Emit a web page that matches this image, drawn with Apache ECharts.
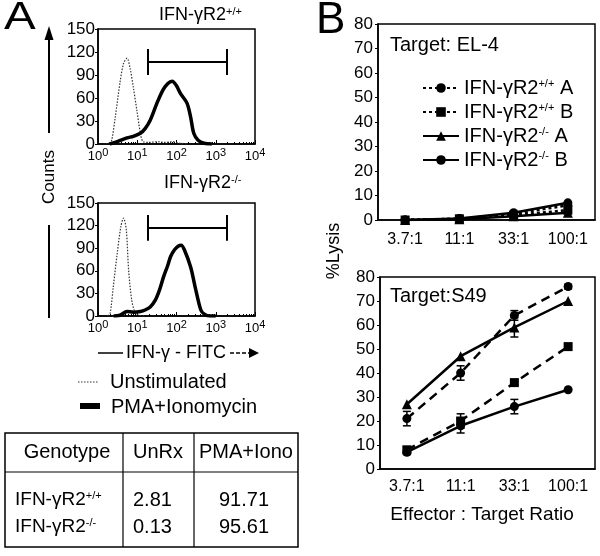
<!DOCTYPE html>
<html>
<head>
<meta charset="utf-8">
<script src="https://cdn.jsdelivr.net/npm/echarts@6/dist/echarts.min.js"></script>
<style>
html, body { margin: 0; padding: 0; background: #fff; }
#chart { width: 600px; height: 556px; }
</style>
</head>
<body>
<div id="chart"></div>
<script>
var FONT = '"Liberation Sans", Arial, Helvetica, sans-serif';

// Panel A: flow histograms, x given as log10(fluorescence), y = counts
var wtUnstimLog = [0.2, 0.3, 0.35, 0.44, 0.56, 0.65, 0.74, 0.82, 0.9, 0.99, 1.08, 1.15, 1.3, 1.5, 1.7, 1.9, 2.1, 2.3];
var wtUnstimCount = [0, 2, 5, 35, 80, 105, 112, 98, 74, 44, 14, 3, 2, 3, 2, 3, 1, 0];
var wtPmaLog = [0.3, 0.49, 0.74, 0.9, 1.08, 1.2, 1.33, 1.5, 1.65, 1.78, 1.89, 2.0, 2.1, 2.27, 2.36, 2.44, 2.55, 2.7, 2.9];
var wtPmaCount = [0, 3, 8, 10, 14, 20, 31, 53, 70, 79, 82, 76, 66, 53, 35, 14, 5, 1, 0];
var koUnstimLog = [0.25, 0.31, 0.39, 0.48, 0.58, 0.65, 0.72, 0.78, 0.86, 0.95, 1.05, 1.2];
var koUnstimCount = [0, 4, 39, 79, 118, 130, 115, 61, 21, 4, 1, 0];
var koPmaLog = [0.4, 0.56, 0.74, 0.9, 1.08, 1.2, 1.33, 1.46, 1.57, 1.67, 1.77, 1.85, 1.95, 2.05, 2.12, 2.2, 2.36, 2.49, 2.62, 2.72, 2.85, 3.0];
var koPmaCount = [0, 1, 6, 5, 6, 8, 12, 21, 35, 52, 66, 79, 88, 93, 94, 88, 65, 35, 8, 2, 0, 0];
var wtGate = [19, 1900, 107];
var koGate = [19, 1900, 117];
var countTicks = [0, 150, 30];

// Panel A table
var tableHeader = ['Genotype', 'UnRx', 'PMA+Iono'];
var tableGenotypes = ['+/+', '-/-'];
var tableUnRx = ['2.81', '0.13'];
var tablePma = ['91.71', '95.61'];

// Panel B: %lysis
var ratios = ['3.7:1', '11:1', '33:1', '100:1'];
var seriesNames = ['IFN-γR2+/+ A', 'IFN-γR2+/+ B', 'IFN-γR2-/- A', 'IFN-γR2-/- B'];
var el4WtA = [0, 0.5, 2.5, 6];
var el4WtB = [0, 0.5, 2, 4];
var el4KoA = [0, 0.3, 1.5, 3];
var el4KoB = [0, 0.6, 3, 7];
var s49WtA = [21, 40, 64, 76];
var s49WtB = [8, 20, 36, 51];
var s49KoA = [27, 47, 59, 70];
var s49KoB = [7, 18, 26, 33];
var s49WtAErr = [3, 3, 2, 1];
var s49WtBErr = [1, 3, 0, 0];
var s49KoAErr = [0, 0, 4, 0];
var s49KoBErr = [1, 3, 3, 0];

function pairs(logs, counts) {
  return logs.map(function (l, i) { return [Math.pow(10, l), counts[i]]; });
}

function gateLines(g) {
  return [
    [{ coord: [g[0], g[2]] }, { coord: [g[1], g[2]] }],
    [{ coord: [g[0], g[2] - 17] }, { coord: [g[0], g[2] + 17] }],
    [{ coord: [g[1], g[2] - 17] }, { coord: [g[1], g[2] + 17] }]
  ];
}

function richSup(size, supSize) {
  return {
    n: { fontFamily: FONT, fontSize: size, lineHeight: size, verticalAlign: 'bottom', color: '#000' },
    s: { fontFamily: FONT, fontSize: supSize, lineHeight: supSize, verticalAlign: 'top', color: '#000' }
  };
}

function histX(grid) {
  return {
    type: 'log', logBase: 10, gridIndex: grid, min: 1, max: 10000,
    axisLine: { lineStyle: { color: '#000', width: 1.5 } },
    axisTick: { show: true, inside: true, length: 4, lineStyle: { color: '#000' } },
    minorTick: { show: true, splitNumber: 9, length: 2, lineStyle: { color: '#000' } },
    splitLine: { show: false },
    axisLabel: {
      margin: 3, color: '#000',
      formatter: function (v) { return '{b|10}{e|' + Math.round(Math.log10(v)) + '}'; },
      rich: {
        b: { fontFamily: FONT, fontSize: 13, lineHeight: 16, verticalAlign: 'bottom', color: '#000' },
        e: { fontFamily: FONT, fontSize: 11, lineHeight: 11, verticalAlign: 'top', color: '#000' }
      }
    }
  };
}
function histY(grid) {
  return {
    type: 'value', gridIndex: grid, min: countTicks[0], max: countTicks[1], interval: countTicks[2],
    axisLine: { show: true, lineStyle: { color: '#000', width: 1.5 } },
    axisTick: { show: true, length: 3, lineStyle: { color: '#000' } },
    splitLine: { show: false },
    axisLabel: { margin: 3, color: '#000', fontFamily: FONT, fontSize: 17 }
  };
}
function lysisX(grid, margin) {
  return {
    type: 'category', gridIndex: grid, data: ratios, boundaryGap: true,
    axisLine: { lineStyle: { color: '#000', width: 1.5 } },
    axisTick: { show: false },
    axisLabel: { interval: 0, hideOverlap: false, margin: margin, color: '#000', fontFamily: FONT, fontSize: 16 }
  };
}
function lysisY(grid) {
  return {
    type: 'value', gridIndex: grid, min: 0, max: 80, interval: 10,
    axisLine: { show: true, lineStyle: { color: '#000', width: 1.5 } },
    axisTick: { show: true, length: 3, lineStyle: { color: '#000' } },
    splitLine: { show: false },
    axisLabel: { margin: 5, color: '#000', fontFamily: FONT, fontSize: 17 }
  };
}
function lysisLine(name, data, grid, dash, symbol) {
  return {
    name: name, type: 'line', xAxisIndex: grid, yAxisIndex: grid, data: data,
    symbol: symbol, symbolSize: symbol === 'triangle' ? 10 : 9, showSymbol: true,
    itemStyle: { color: '#000' },
    lineStyle: { color: '#000', width: 2.5, type: dash },
    z: 3
  };
}
function errorBars(vals, errs) {
  return {
    type: 'custom', xAxisIndex: 3, yAxisIndex: 3, silent: true, z: 4,
    encode: { x: 0, y: 1 },
    data: vals.map(function (v, i) { return [i, v, errs[i]]; }).filter(function (d) { return d[2] > 0; }),
    renderItem: function (params, api) {
      var i = api.value(0), v = api.value(1), e = api.value(2);
      var hi = api.coord([i, v + e]), lo = api.coord([i, v - e]);
      var st = { stroke: '#000', lineWidth: 1.5 };
      return {
        type: 'group', children: [
          { type: 'line', shape: { x1: hi[0], y1: hi[1], x2: lo[0], y2: lo[1] }, style: st },
          { type: 'line', shape: { x1: hi[0] - 4, y1: hi[1], x2: hi[0] + 4, y2: hi[1] }, style: st },
          { type: 'line', shape: { x1: lo[0] - 4, y1: lo[1], x2: lo[0] + 4, y2: lo[1] }, style: st }
        ]
      };
    }
  };
}
function supText(base, sup) {
  return '{n|' + base + '}{s|' + sup + '}';
}
function label(x, y, text, size, extra) {
  var el = { type: 'text', x: x, y: y, style: { text: text, fontFamily: FONT, fontSize: size, fill: '#000', verticalAlign: 'middle' } };
  if (extra) {
    for (var k in extra) {
      if (k === 'align') el.style.align = extra[k]; else el[k] = extra[k];
    }
  }
  return el;
}

var graphics = [
  // panel letters
  label(4, 19, 'A', 38, { scaleX: 1.25 }),
  label(316, 21, 'B', 44),
  // histogram titles
  { type: 'text', x: 159, y: 15, style: { text: supText('IFN-γR2', '+/+'), rich: richSup(18, 11), verticalAlign: 'middle' } },
  { type: 'text', x: 164, y: 183, style: { text: supText('IFN-γR2', '-/-'), rich: richSup(18, 11), verticalAlign: 'middle' } },
  // Counts with arrow
  label(49, 177, 'Counts', 17, { rotation: Math.PI / 2, align: 'center' }),
  { type: 'line', shape: { x1: 49, y1: 133, x2: 49, y2: 36 }, style: { stroke: '#000', lineWidth: 2 } },
  { type: 'polygon', shape: { points: [[44.5, 40], [53.5, 40], [49, 26]] }, style: { fill: '#000' } },
  { type: 'line', shape: { x1: 49, y1: 225, x2: 49, y2: 318 }, style: { stroke: '#000', lineWidth: 2 } },
  // FITC axis title
  { type: 'line', shape: { x1: 98, y1: 353, x2: 123, y2: 353 }, style: { stroke: '#000', lineWidth: 1.5 } },
  label(126, 353, 'IFN-γ - FITC', 18),
  { type: 'line', shape: { x1: 230, y1: 353, x2: 250, y2: 353 }, style: { stroke: '#000', lineWidth: 1.5, lineDash: [4, 2] } },
  { type: 'polygon', shape: { points: [[249, 348], [249, 358], [259, 353]] }, style: { fill: '#000' } },
  // histogram legend
  { type: 'line', shape: { x1: 78, y1: 382, x2: 98, y2: 382 }, style: { stroke: '#333', lineWidth: 1.2, lineDash: [1.5, 1.5] } },
  label(110, 382, 'Unstimulated', 20),
  { type: 'rect', shape: { x: 80, y: 403, width: 20, height: 6 }, style: { fill: '#000' } },
  label(111, 407, 'PMA+Ionomycin', 20),
  // table frame
  { type: 'rect', shape: { x: 5, y: 433, width: 293, height: 114 }, style: { fill: 'none', stroke: '#000', lineWidth: 1.5 } },
  { type: 'line', shape: { x1: 5, y1: 472, x2: 298, y2: 472 }, style: { stroke: '#000', lineWidth: 1.2 } },
  { type: 'line', shape: { x1: 123, y1: 433, x2: 123, y2: 547 }, style: { stroke: '#000', lineWidth: 1.2 } },
  { type: 'line', shape: { x1: 194, y1: 433, x2: 194, y2: 547 }, style: { stroke: '#000', lineWidth: 1.2 } },
  // panel B labels
  label(390, 45, 'Target: EL-4', 20),
  label(390, 296, 'Target:S49', 20),
  label(334, 251, '%Lysis', 18, { rotation: Math.PI / 2, align: 'center' }),
  label(482, 515, 'Effector : Target Ratio', 19, { align: 'center' })
];

var colCenters = [67, 158, 246];
tableHeader.forEach(function (h, i) {
  graphics.push(label(colCenters[i], 452, h, 20, { align: 'center' }));
});
var rowY = [500, 527];
tableGenotypes.forEach(function (g, i) {
  graphics.push({ type: 'text', x: 15, y: rowY[i], style: { text: supText('IFN-γR2', g), rich: richSup(19, 11), verticalAlign: 'middle' } });
  graphics.push(label(133, rowY[i], tableUnRx[i], 20));
  graphics.push(label(244, rowY[i], tablePma[i], 20, { align: 'center' }));
});

var chart = echarts.init(document.getElementById('chart'), null, { renderer: 'canvas' });
chart.setOption({
  backgroundColor: '#fff',
  animation: false,
  grid: [
    { left: 98, top: 29, width: 157, height: 115, show: true, borderColor: '#000', borderWidth: 1.5 },
    { left: 98, top: 203, width: 157, height: 113, show: true, borderColor: '#000', borderWidth: 1.5 },
    { left: 378, top: 24, width: 217, height: 196, show: true, borderColor: '#000', borderWidth: 1.5 },
    { left: 380, top: 277, width: 215, height: 192, show: true, borderColor: '#000', borderWidth: 1.5 }
  ],
  xAxis: [histX(0), histX(1), lysisX(2, 12), lysisX(3, 10)],
  yAxis: [histY(0), histY(1), lysisY(2), lysisY(3)],
  legend: {
    data: seriesNames,
    orient: 'vertical',
    left: 417, top: 73,
    itemWidth: 36, itemHeight: 12, itemGap: 4,
    selectedMode: false,
    formatter: function (n) {
      var m = n.match(/^(IFN-γR2)(\S+) (\S)$/);
      return '{n|' + m[1] + '}{s|' + m[2] + '}{n| ' + m[3] + '}';
    },
    textStyle: { rich: richSup(20, 11) }
  },
  series: [
    { type: 'line', xAxisIndex: 0, yAxisIndex: 0, data: pairs(wtUnstimLog, wtUnstimCount), showSymbol: false, smooth: 0.3,
      lineStyle: { color: '#333', width: 1.2, type: [1.5, 1.5] } },
    { type: 'line', xAxisIndex: 0, yAxisIndex: 0, data: pairs(wtPmaLog, wtPmaCount), showSymbol: false, smooth: 0.3,
      lineStyle: { color: '#000', width: 3.5 },
      markLine: { silent: true, symbol: ['none', 'none'], label: { show: false }, lineStyle: { color: '#000', width: 2, type: 'solid' }, data: gateLines(wtGate) } },
    { type: 'line', xAxisIndex: 1, yAxisIndex: 1, data: pairs(koUnstimLog, koUnstimCount), showSymbol: false, smooth: 0.3,
      lineStyle: { color: '#333', width: 1.2, type: [1.5, 1.5] } },
    { type: 'line', xAxisIndex: 1, yAxisIndex: 1, data: pairs(koPmaLog, koPmaCount), showSymbol: false, smooth: 0.3,
      lineStyle: { color: '#000', width: 3.5 },
      markLine: { silent: true, symbol: ['none', 'none'], label: { show: false }, lineStyle: { color: '#000', width: 2, type: 'solid' }, data: gateLines(koGate) } },

    lysisLine(seriesNames[0], el4WtA, 2, [3, 3], 'circle'),
    lysisLine(seriesNames[1], el4WtB, 2, [3, 3], 'rect'),
    lysisLine(seriesNames[2], el4KoA, 2, 'solid', 'triangle'),
    lysisLine(seriesNames[3], el4KoB, 2, 'solid', 'circle'),

    lysisLine(seriesNames[0], s49WtA, 3, [9, 6], 'circle'),
    lysisLine(seriesNames[1], s49WtB, 3, [9, 6], 'rect'),
    lysisLine(seriesNames[2], s49KoA, 3, 'solid', 'triangle'),
    lysisLine(seriesNames[3], s49KoB, 3, 'solid', 'circle'),

    errorBars(s49WtA, s49WtAErr),
    errorBars(s49WtB, s49WtBErr),
    errorBars(s49KoA, s49KoAErr),
    errorBars(s49KoB, s49KoBErr)
  ],
  graphic: graphics
});
</script>
</body>
</html>
